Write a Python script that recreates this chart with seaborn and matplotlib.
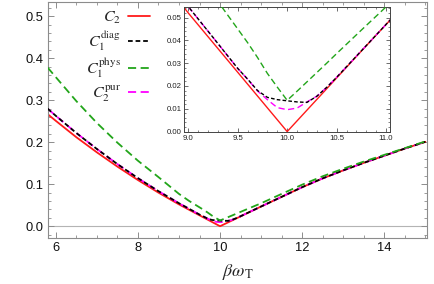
import matplotlib
matplotlib.use("Agg")
import matplotlib.pyplot as plt
import seaborn as sns
import numpy as np
from matplotlib.ticker import MultipleLocator

# values
beta_w = [5.8, 6.0, 6.5, 7.0, 7.5, 8.0, 8.5, 9.0, 9.25, 9.5, 9.6, 9.7, 9.8, 9.9,
          10.0, 10.1, 10.2, 10.3, 10.4, 10.5, 10.75, 11.0, 11.5, 12.0, 12.5,
          13.0, 13.5, 14.0, 14.5, 15.0]
c2 = [0.267, 0.251, 0.212, 0.176, 0.142, 0.110, 0.080, 0.052, 0.039, 0.026,
      0.0208, 0.0156, 0.0104, 0.0052, 0.0, 0.0047, 0.0094, 0.0141, 0.0188,
      0.0235, 0.0353, 0.047, 0.070, 0.093, 0.114, 0.133, 0.151, 0.168, 0.185, 0.201]
c1_diag = [0.280, 0.263, 0.222, 0.184, 0.148, 0.1145, 0.0835, 0.0548, 0.0413,
           0.0277, 0.023, 0.0180, 0.0150, 0.0140, 0.0135, 0.0130, 0.0128, 0.0155,
           0.0194, 0.0238, 0.0354, 0.047, 0.070, 0.093, 0.114, 0.133, 0.151,
           0.168, 0.185, 0.201]
c1_phys = [0.378, 0.355, 0.298, 0.246, 0.199, 0.156, 0.117, 0.077, 0.060, 0.045,
           0.039, 0.0325, 0.0255, 0.0195, 0.0137, 0.0177, 0.0218, 0.0259, 0.030,
           0.0342, 0.0445, 0.0547, 0.077, 0.099, 0.119, 0.137, 0.154, 0.170,
           0.186, 0.202]
c2_pur = [0.280, 0.263, 0.222, 0.184, 0.148, 0.1145, 0.0835, 0.0548, 0.0413,
          0.0277, 0.023, 0.0178, 0.0140, 0.0105, 0.0096, 0.0103, 0.0130, 0.0155,
          0.0194, 0.0238, 0.0354, 0.047, 0.070, 0.093, 0.114, 0.133, 0.151,
          0.168, 0.185, 0.201]

sns.set_style("ticks")
plt.rcParams['font.family'] = ['Liberation Sans', 'DejaVu Sans']
plt.rcParams['mathtext.fontset'] = 'stix'

RED = '#ff1a1a'
BLACK = '#000000'
GREEN = '#22a51a'
MAGENTA = '#ff00ff'
FRAME = '#8c8c8c'

styles = [
    (c2, RED, '-', r'$C_2$', 1),
    (c2_pur, MAGENTA, (0, (4.5, 2.5)), r'$C_2^{\rm pur}$', 2),
    (c1_diag, BLACK, (0, (2.6, 1.6)), r'$C_1^{\rm diag}$', 3),
    (c1_phys, GREEN, (0, (4.5, 2.5)), r'$C_1^{\rm phys}$', 4),
]

fig = plt.figure(figsize=(4.34, 2.84), dpi=100)
ax = fig.add_axes([0.1106, 0.162, 0.8733, 0.831])

ax.axhline(0, color='#b4b4b4', lw=0.8, zorder=0)
lines = {}
for ys, col, ls, lab, z in styles:
    sns.lineplot(x=beta_w, y=ys, ax=ax, color=col, linestyle=ls, lw=1.3,
                 label=lab, zorder=z, legend=False)
    lines[lab] = ax.lines[-1]

ax.set_xlim(5.81, 15.04)
ax.set_ylim(-0.028, 0.534)
ax.xaxis.set_major_locator(MultipleLocator(2))
ax.xaxis.set_minor_locator(MultipleLocator(0.5))
ax.yaxis.set_major_locator(MultipleLocator(0.1))
ax.yaxis.set_minor_locator(MultipleLocator(0.02))
ax.set_xticks([6, 8, 10, 12, 14])
ax.set_yticks([0.0, 0.1, 0.2, 0.3, 0.4, 0.5])
ax.set_yticklabels(['0.0', '0.1', '0.2', '0.3', '0.4', '0.5'])
ax.tick_params(which='both', direction='in', top=True, right=True,
               color=FRAME, labelsize=9.3, labelcolor='#111111', pad=3)
ax.tick_params(which='major', length=4, width=0.7)
ax.tick_params(which='minor', length=2, width=0.6)
for s in ax.spines.values():
    s.set_color(FRAME)
    s.set_linewidth(0.8)
ax.set_xlabel(r'$\beta\omega_{\rm T}$', fontsize=13, labelpad=6)
ax.set_ylabel('')

order = [r'$C_2$', r'$C_1^{\rm diag}$', r'$C_1^{\rm phys}$', r'$C_2^{\rm pur}$']
leg = ax.legend([lines[k] for k in order], order, loc='upper right',
                bbox_to_anchor=(0.3456, 0.965), bbox_transform=fig.transFigure,
                markerfirst=False, frameon=False, fontsize=11.5,
                handlelength=1.4, handletextpad=0.4, labelspacing=0.22,
                borderpad=0, borderaxespad=0)

# inset
ins = fig.add_axes([0.4247, 0.5335, 0.474, 0.4408])
for ys, col, ls, lab, z in styles:
    sns.lineplot(x=beta_w, y=ys, ax=ins, color=col, linestyle=ls, lw=1.0,
                 zorder=z, legend=False)
ins.set_xlim(8.96, 11.04)
ins.set_ylim(-0.0004, 0.0545)
ins.xaxis.set_major_locator(MultipleLocator(0.5))
ins.xaxis.set_minor_locator(MultipleLocator(0.1))
ins.yaxis.set_major_locator(MultipleLocator(0.01))
ins.yaxis.set_minor_locator(MultipleLocator(0.002))
ins.set_xticks([9.0, 9.5, 10.0, 10.5, 11.0])
ins.set_xticklabels(['9.0', '9.5', '10.0', '10.5', '11.0'])
ins.set_yticks([0.0, 0.01, 0.02, 0.03, 0.04, 0.05])
ins.set_yticklabels(['0.00', '0.01', '0.02', '0.03', '0.04', '0.05'])
ins.tick_params(which='both', direction='in', top=True, right=True,
                color='#555555', labelsize=5.6, labelcolor='#222222', pad=2)
ins.tick_params(which='major', length=3, width=0.6)
ins.tick_params(which='minor', length=1.5, width=0.5)
for s in ins.spines.values():
    s.set_color('#444444')
    s.set_linewidth(0.7)
ins.set_xlabel('')
ins.set_ylabel('')
ins.set_facecolor('white')

fig.savefig('out.png', dpi=100)
